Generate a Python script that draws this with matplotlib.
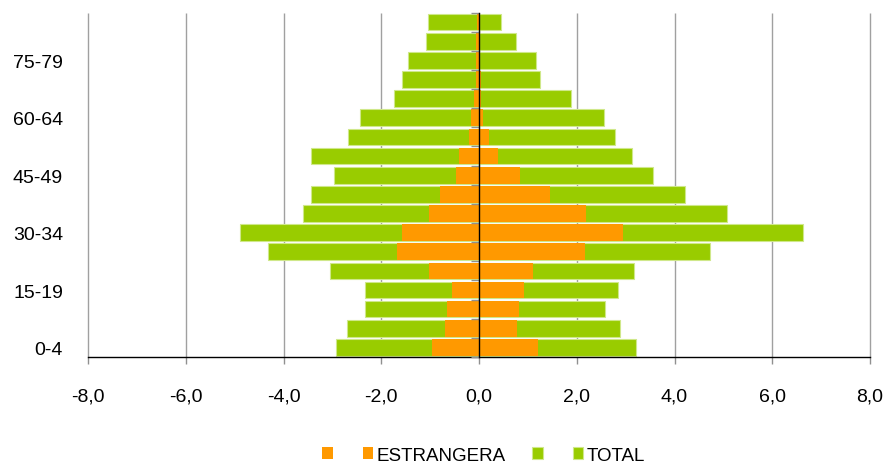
import numpy as np
import matplotlib
matplotlib.use("Agg")
import matplotlib.pyplot as plt

plt.rcParams['font.family'] = ['Liberation Sans', 'DejaVu Sans']

# grupos de edad, de abajo (0-4) hacia arriba (85+)
edades = ['0-4', '5-9', '10-14', '15-19', '20-24', '25-29', '30-34', '35-39',
          '40-44', '45-49', '50-54', '55-59', '60-64', '65-69', '70-74',
          '75-79', '80-84', '85+']

# poblacion total (%) - lado izquierdo negativo
total_izq = [-2.93, -2.71, -2.33, -2.33, -3.05, -4.32, -4.90, -3.61, -3.44,
             -2.96, -3.43, -2.68, -2.43, -1.75, -1.58, -1.46, -1.08, -1.04]
total_der = [3.21, 2.88, 2.57, 2.85, 3.18, 4.72, 6.62, 5.07, 4.21,
             3.55, 3.12, 2.78, 2.56, 1.89, 1.25, 1.16, 0.76, 0.44]

# poblacion estranxeira (%)
estr_izq = [-0.97, -0.69, -0.66, -0.55, -1.02, -1.68, -1.58, -1.03, -0.79,
            -0.48, -0.41, -0.20, -0.16, -0.10, -0.07, -0.06, -0.06, -0.05]
estr_der = [1.20, 0.78, 0.81, 0.91, 1.10, 2.17, 2.95, 2.18, 1.45,
            0.83, 0.38, 0.20, 0.08, 0.05, 0.03, 0.02, 0.02, 0.02]

verde = '#99CC00'
laranxa = '#FF9900'

fig = plt.figure(figsize=(8.91, 4.64), dpi=100)
ax = fig.add_axes([0.0988, 0.2284, 0.8777, 0.7425])

y = np.arange(len(edades))
alto = 0.87

g1 = ax.barh(y, total_izq, height=alto, color=verde, edgecolor='#cfe88a', linewidth=0.8, zorder=2)
g2 = ax.barh(y, total_der, height=alto, color=verde, edgecolor='#cfe88a', linewidth=0.8, zorder=2)
o1 = ax.barh(y, estr_izq, height=alto, color=laranxa, linewidth=0, zorder=3)
o2 = ax.barh(y, estr_der, height=alto, color=laranxa, linewidth=0, zorder=3)

ax.set_xlim(-8, 8)
ax.set_ylim(-0.5, len(edades) - 0.5)

# rejilla vertical cada 2 puntos
ax.vlines(np.arange(-8, 9, 2), -0.5, len(edades) - 0.5, color='#a0a0a0',
          linewidth=1, zorder=0, clip_on=False)

xt = np.arange(-8, 9, 2)
ax.set_xticks(xt)
ax.set_xticklabels([('%.1f' % v).replace('.', ',') for v in xt])
ax.tick_params(axis='x', colors='#909090', length=5, width=1, pad=17,
               labelsize=14, labelcolor='black')

ax.set_yticks(y[::3])
ax.set_yticklabels(edades[::3])
ax.tick_params(axis='y', length=0, pad=18, labelsize=14)

for s in ['left', 'right', 'top']:
    ax.spines[s].set_visible(False)
ax.spines['bottom'].set_color('black')
ax.spines['bottom'].set_linewidth(1)

# eje vertical en el cero con marcas entre grupos
eje = ax.secondary_yaxis(0.5)
eje.set_alignment('left')
eje.set_yticks(np.arange(len(edades) + 1) - 0.5)
eje.set_yticklabels([])
eje.tick_params(axis='y', colors='#909090', length=6, width=1)
eje.spines['left'].set_color('black')
eje.spines['left'].set_linewidth(1)
eje.set_zorder(5)

ax.legend([o1, o2, g1, g2], ['', 'ESTRANGERA', '', 'TOTAL'],
          loc='upper center', bbox_to_anchor=(0.506, -0.222), ncol=4,
          frameon=False, fontsize=13.5, handlelength=0.55, handleheight=0.55,
          handletextpad=0.2, columnspacing=1.4, borderpad=0.2)

fig.savefig('out.png', dpi=100)
